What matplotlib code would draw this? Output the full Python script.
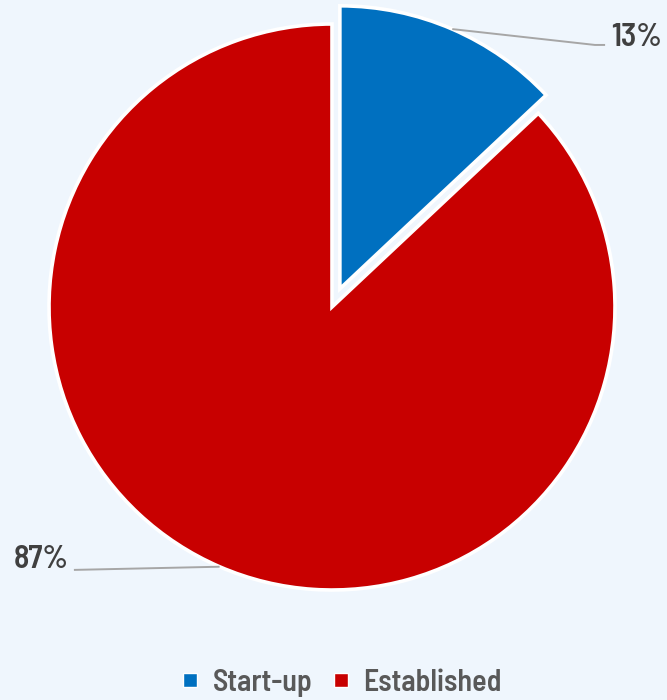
import numpy as np
import matplotlib
matplotlib.use("Agg")
import matplotlib.pyplot as plt
from matplotlib.lines import Line2D

# Share of firms by type
categories = ["Start-up", "Established"]
shares = [13, 87]
labels = ["13%", "87%"]
colors = ["#0070C0", "#C80000"]
explode = [0.07, 0.0]

FONT = ["Barlow Semi Condensed", "DejaVu Sans"]
plt.rcParams["font.family"] = FONT

bg = "#EFF6FD"
fig = plt.figure(figsize=(6.67, 7.0), dpi=100, facecolor=bg)
ax = fig.add_axes([0, 0, 1, 1])
ax.set_facecolor(bg)

wedges, _ = ax.pie(shares, colors=colors, startangle=90, counterclock=False,
                   explode=explode, radius=1.0,
                   wedgeprops=dict(edgecolor="white", linewidth=2.6))
ax.set_aspect("auto")
ax.set_xlim(-332 / 283, (667 - 332) / 283)
ax.set_ylim(-393 / 283, 307 / 283)
ax.axis("off")

# Leader lines from each wedge's arc midpoint to its label
line_color = "#A6A6A6"
ends = [[(0.929, 0.926), (0.965, 0.926)], [(-0.912, -0.929)]]
text_pos = [(0.985, 0.953, "left"), (-0.93, -0.893, "right")]
for w, e, (tx, ty, ha), lab in zip(wedges, ends, text_pos, labels):
    mid = np.deg2rad((w.theta1 + w.theta2) / 2)
    cx, cy = w.center
    sx, sy = cx + w.r * np.cos(mid), cy + w.r * np.sin(mid)
    xs = [sx] + [p[0] for p in e]
    ys = [sy] + [p[1] for p in e]
    ax.plot(xs, ys, color=line_color, lw=1.4, solid_capstyle="butt")
    ax.text(tx, ty, lab, ha=ha, va="center", fontsize=23, fontweight=600,
            color="#404040")

handles = [Line2D([], [], marker="s", linestyle="none", markersize=9.5,
                  markerfacecolor=c, markeredgecolor="white", markeredgewidth=1.0)
           for c in colors]
fig.legend(handles, categories, loc="lower center", bbox_to_anchor=(0.51, -0.034),
           ncol=2, frameon=False, labelcolor="#595959",
           prop=dict(family=FONT, weight=600, size=21.5), handlelength=0.8,
           handletextpad=0.35, columnspacing=0.55)

fig.savefig("out.png", dpi=100, facecolor=bg)
